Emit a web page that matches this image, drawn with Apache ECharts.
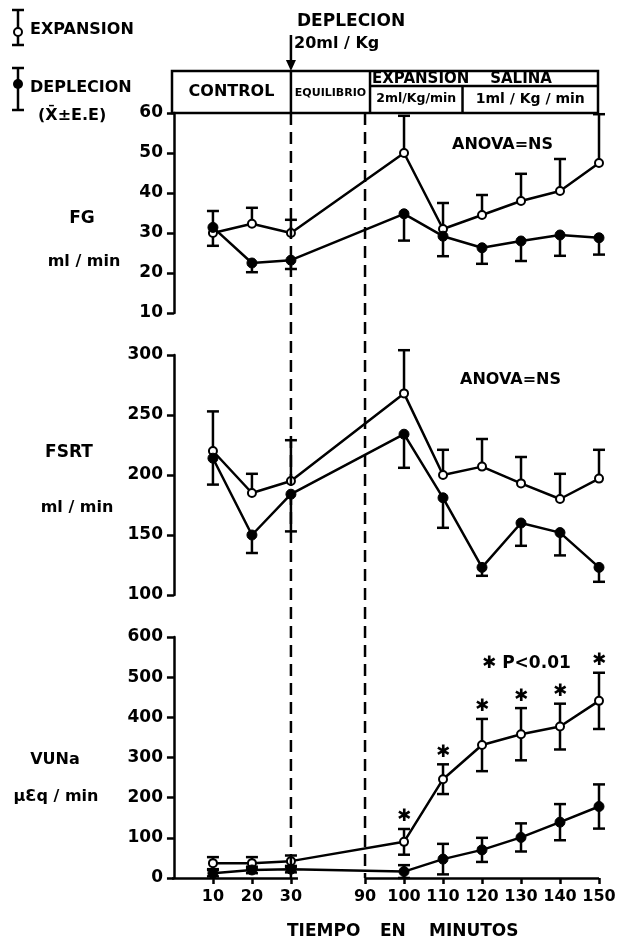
<!DOCTYPE html>
<html>
<head>
<meta charset="utf-8">
<script src="https://cdn.jsdelivr.net/npm/echarts@6/dist/echarts.min.js"></script>
<style>
html, body { margin: 0; padding: 0; background: #fff; }
#main { width: 621px; height: 941px; }
</style>
</head>
<body>
<div id="main"></div>
<script>
// tiempo (min) de cada medicion y etiquetas del eje
var times = [10, 20, 30, 100, 110, 120, 130, 140, 150];
var tickTimes = [10, 20, 30, 90, 100, 110, 120, 130, 140, 150];

// FG ml/min
var fgExp = [30, 32.3, 30, 50, 31, 34.5, 38, 40.5, 47.5];
var fgExpErr = [5.5, 4, 3.3, 9.3, 6.5, 5, 6.8, 8, 12.2];
var fgDep = [31.4, 22.5, 23.2, 34.8, 29.2, 26.3, 28, 29.5, 28.8];
var fgDepErr = [4.6, 2.3, 2.2, 6.7, 5, 4, 5, 5.2, 4.2];

// FSRT ml/min
var fsrtExp = [220, 185, 195, 268, 200, 207, 193, 180, 197];
var fsrtExpErr = [33, 16, 34, 36, 21, 23, 22, 21, 24];
var fsrtDep = [214, 150, 184, 234, 181, 123, 160, 152, 123];
var fsrtDepErr = [22, 15, 31, 28, 25, 7, 19, 19, 12];

// VUNa uEq/min
var vunaExp = [37, 37, 42, 90, 246, 331, 358, 377, 441];
var vunaExpErr = [15, 15, 14, 32, 37, 65, 65, 57, 70];
var vunaDep = [12, 20, 22, 16, 47, 70, 101, 139, 178];
var vunaDepErr = [8, 8, 8, 16, 38, 30, 35, 45, 55];
var vunaSig = [0, 0, 0, 1, 1, 1, 1, 1, 1];

var FONT = '"DejaVu Sans"';
var LW = 2.5;

// eje con corte entre 30 y 90 min
function pos(t) {
  return t <= 30 ? t / 10 : t / 10 - 4.1;
}
var tickPos = tickTimes.map(pos);
var tickLabel = {};
tickTimes.forEach(function (t) { tickLabel[pos(t).toFixed(2)] = String(t); });

function pts(vals) {
  return vals.map(function (v, i) { return [pos(times[i]), v]; });
}

// rows: [x, low, high, capHigh, capLow, star]
function barRows(vals, errs, mode, sig) {
  return vals.map(function (v, i) {
    var lo = mode === 'up' ? v : v - errs[i];
    var hi = mode === 'down' ? v : v + errs[i];
    return [pos(times[i]), lo, hi, mode !== 'down' ? 1 : 0, mode !== 'up' ? 1 : 0, sig ? sig[i] : 0];
  });
}

function errorSeries(idx, rows) {
  return {
    type: 'custom',
    xAxisIndex: idx,
    yAxisIndex: idx,
    z: 1,
    encode: { x: 0, y: [1, 2] },
    renderItem: function (params, api) {
      var x = api.value(0);
      var lo = api.coord([x, api.value(1)]);
      var hi = api.coord([x, api.value(2)]);
      var st = { stroke: '#000', lineWidth: LW };
      var w = 6;
      var kids = [{ type: 'line', shape: { x1: lo[0], y1: lo[1], x2: hi[0], y2: hi[1] }, style: st }];
      if (api.value(3)) kids.push({ type: 'line', shape: { x1: hi[0] - w, y1: hi[1], x2: hi[0] + w, y2: hi[1] }, style: st });
      if (api.value(4)) kids.push({ type: 'line', shape: { x1: lo[0] - w, y1: lo[1], x2: lo[0] + w, y2: lo[1] }, style: st });
      if (api.value(5)) kids.push({
        type: 'text',
        style: { text: '\u2731', x: hi[0], y: hi[1] - 12, align: 'center', verticalAlign: 'middle', font: 'bold 17px ' + FONT, fill: '#000' }
      });
      return { type: 'group', children: kids };
    },
    data: rows
  };
}

function lineSeries(idx, vals, open) {
  return {
    type: 'line',
    xAxisIndex: idx,
    yAxisIndex: idx,
    z: 3,
    data: pts(vals),
    symbol: 'circle',
    symbolSize: open ? 8 : 10,
    lineStyle: { color: '#000', width: LW },
    itemStyle: open ? { color: '#fff', borderColor: '#000', borderWidth: 2 } : { color: '#000', borderColor: '#000', borderWidth: 1 },
    animation: false
  };
}

function yAxis(idx, min, max, interval) {
  return {
    type: 'value',
    gridIndex: idx,
    min: min,
    max: max,
    interval: interval,
    axisLine: { show: true, lineStyle: { color: '#000', width: LW } },
    axisTick: { show: true, length: 7, lineStyle: { color: '#000', width: LW } },
    axisLabel: { color: '#000', fontFamily: FONT, fontWeight: 'bold', fontSize: 17, margin: 9 },
    splitLine: { show: false }
  };
}

function xAxis(idx, show) {
  var ax = {
    type: 'value',
    gridIndex: idx,
    min: -0.05,
    max: 10.9,
    show: show,
    axisLine: { show: false },
    splitLine: { show: false }
  };
  if (show) {
    ax.axisTick = { show: true, customValues: tickPos, length: 6, lineStyle: { color: '#000', width: LW } };
    ax.axisLabel = {
      show: true, customValues: tickPos, color: '#000', fontFamily: FONT, fontWeight: 'bold', fontSize: 16, margin: 11,
      formatter: function (v) { return tickLabel[Number(v).toFixed(2)] || ''; }
    };
  }
  return ax;
}

var chart = echarts.init(document.getElementById('main'));

var bottomLine = lineSeries(2, vunaDep, false);
bottomLine.markLine = {
  silent: true,
  symbol: 'none',
  label: { show: false },
  lineStyle: { color: '#000', width: LW, type: 'solid' },
  data: [
    [{ coord: [-0.05, 0] }, { coord: [pos(30) + 0.18, 0] }],
    [{ coord: [pos(90), 0] }, { coord: [pos(150), 0] }]
  ]
};

chart.setOption({
  animation: false,
  textStyle: { fontFamily: FONT },
  grid: [
    { left: 172, right: 22, top: 113, height: 200 },
    { left: 172, right: 22, top: 355, height: 240 },
    { left: 172, right: 22, top: 637, height: 241 }
  ],
  xAxis: [xAxis(0, false), xAxis(1, false), xAxis(2, true)],
  yAxis: [yAxis(0, 10, 60, 10), yAxis(1, 100, 300, 50), yAxis(2, 0, 600, 100)],
  series: [
    errorSeries(0, barRows(fgExp, fgExpErr, 'up')),
    errorSeries(0, barRows(fgDep, fgDepErr, 'down')),
    lineSeries(0, fgExp, true),
    lineSeries(0, fgDep, false),
    errorSeries(1, barRows(fsrtExp, fsrtExpErr, 'up')),
    errorSeries(1, barRows(fsrtDep, fsrtDepErr, 'down')),
    lineSeries(1, fsrtExp, true),
    lineSeries(1, fsrtDep, false),
    errorSeries(2, barRows(vunaExp, vunaExpErr, 'both', vunaSig)),
    errorSeries(2, barRows(vunaDep, vunaDepErr, 'both')),
    lineSeries(2, vunaExp, true),
    bottomLine
  ]
});

// anotaciones, recuadro superior y lineas discontinuas
var x30 = chart.convertToPixel({ xAxisIndex: 2 }, pos(30));
var x90 = chart.convertToPixel({ xAxisIndex: 2 }, pos(90));
var x115 = chart.convertToPixel({ xAxisIndex: 2 }, pos(115));
var xL = chart.convertToPixel({ xAxisIndex: 2 }, -0.05);
var xR = 598;
var yTop = 71, yMid = 86, yBox = 113;
var yBottom = chart.convertToPixel({ yAxisIndex: 2 }, 0);
var xExp = x90 + 5;

var solid = { stroke: '#000', lineWidth: LW };
var dashed = { stroke: '#000', lineWidth: LW, lineDash: [12, 7] };

function ln(x1, y1, x2, y2, st) {
  return { type: 'line', shape: { x1: x1, y1: y1, x2: x2, y2: y2 }, style: st || solid, z: 10 };
}
function txt(s, x, y, size, align) {
  return { type: 'text', x: x, y: y, z: 10, style: { text: s, font: 'bold ' + size + 'px ' + FONT, fill: '#000', align: align || 'left', verticalAlign: 'middle' } };
}
function legendIcon(cx, y1, y2, yc, open) {
  return [
    ln(cx, y1, cx, y2),
    ln(cx - 6, y1, cx + 6, y1),
    ln(cx - 6, y2, cx + 6, y2),
    { type: 'circle', z: 11, shape: { cx: cx, cy: yc, r: open ? 4 : 5 }, style: open ? { fill: '#fff', stroke: '#000', lineWidth: 2 } : { fill: '#000' } }
  ];
}

var g = [];
g = g.concat(legendIcon(18, 10, 45, 32, true), legendIcon(18, 68, 110, 84, false));
g.push(txt('EXPANSION', 30, 30, 16));
g.push(txt('DEPLECION', 30, 88, 16));
g.push(txt('(X\u0304\u00B1E.E)', 38, 116, 16));

g.push(txt('DEPLECION', 297, 22, 17));
g.push(txt('20ml / Kg', 294, 44, 16));
g.push(ln(x30, 35, x30, 62));
g.push({ type: 'polygon', z: 10, shape: { points: [[x30 - 5, 60], [x30 + 5, 60], [x30, 71]] }, style: { fill: '#000' } });

g.push({ type: 'rect', z: 10, shape: { x: xL, y: yTop, width: xR - xL, height: yBox - yTop }, style: { fill: 'none', stroke: '#000', lineWidth: LW } });
g.push(ln(x30, yTop, x30, yBox));
g.push(ln(xExp, yTop, xExp, yBox));
g.push(ln(xExp, yMid, xR, yMid));
g.push(ln(x115, yMid, x115, yBox));
g.push(txt('CONTROL', (xL + x30) / 2, 92, 16, 'center'));
g.push(txt('EQUILIBRIO', (x30 + xExp) / 2, 93, 11, 'center'));
g.push(txt('EXPANSION    SALINA', xExp + 2, 79, 15));
g.push(txt('2ml/Kg/min', (xExp + x115) / 2, 99, 12.5, 'center'));
g.push(txt('1ml / Kg / min', (x115 + xR) / 2, 99, 14, 'center'));

g.push(ln(x30, yBox, x30, yBottom, dashed));
g.push(ln(x90, yBox, x90, yBottom, dashed));

g.push(txt('ANOVA=NS', 452, 145, 16));
g.push(txt('ANOVA=NS', 460, 380, 16));
g.push(txt('\u2731 P<0.01', 482, 664, 17));

g.push(txt('FG', 82, 219, 17, 'center'));
g.push(txt('ml / min', 84, 262, 16, 'center'));
g.push(txt('FSRT', 69, 453, 17, 'center'));
g.push(txt('ml / min', 77, 508, 16, 'center'));
g.push(txt('VUNa', 55, 760, 16, 'center'));
g.push(txt('\u03BC\u0190q / min', 56, 797, 16, 'center'));

g.push(txt('TIEMPO', 287, 932, 17));
g.push(txt('EN', 380, 932, 17));
g.push(txt('MINUTOS', 429, 932, 17));

chart.setOption({ graphic: g });

window.addEventListener('resize', function () {
  chart.resize();
});
</script>
</body>
</html>
